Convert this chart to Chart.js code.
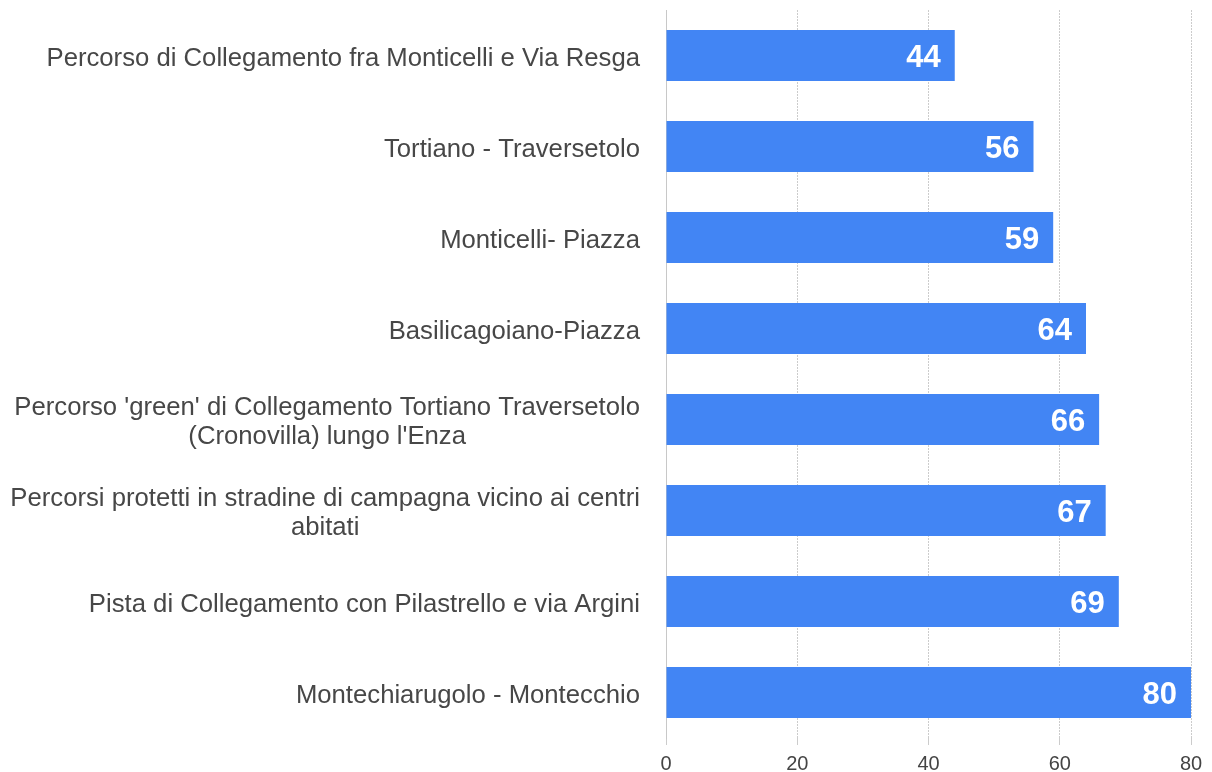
<!DOCTYPE html>
<html>
<head>
<meta charset="utf-8">
<script src="https://cdn.jsdelivr.net/npm/chart.js@4.4.1/dist/chart.umd.min.js"></script>
<style>
  html, body { margin: 0; padding: 0; background: #ffffff; }
  #wrap { width: 1212px; height: 772px; position: relative; }
</style>
</head>
<body>
<div id="wrap"><canvas id="c" width="1212" height="772"></canvas></div>
<script>
const categories = [
  ["Percorso di Collegamento fra Monticelli e Via Resga"],
  ["Tortiano - Traversetolo"],
  ["Monticelli- Piazza"],
  ["Basilicagoiano-Piazza"],
  ["Percorso 'green' di Collegamento Tortiano Traversetolo", "(Cronovilla) lungo l'Enza"],
  ["Percorsi protetti in stradine di campagna vicino ai centri", "abitati"],
  ["Pista di Collegamento con Pilastrello e via Argini"],
  ["Montechiarugolo - Montecchio"]
];
const values = [44, 56, 59, 64, 66, 67, 69, 80];
const xTicks = [0, 20, 40, 60, 80];

const FONT = "'Liberation Sans', Arial, sans-serif";

const valueLabels = {
  id: 'valueLabels',
  afterDatasetsDraw(chart) {
    const ctx = chart.ctx;
    const meta = chart.getDatasetMeta(0);
    ctx.save();
    ctx.font = "bold 31px " + FONT;
    ctx.fillStyle = '#ffffff';
    ctx.textAlign = 'right';
    ctx.textBaseline = 'middle';
    meta.data.forEach((bar, i) => {
      ctx.fillText(String(values[i]), bar.x - 14, bar.y + 3);
    });
    ctx.restore();
  }
};

const categoryLabels = {
  id: 'categoryLabels',
  afterDraw(chart) {
    const ctx = chart.ctx;
    const yScale = chart.scales.y;
    const rightX = yScale.right - 26;
    const lineH = 29;
    ctx.save();
    ctx.font = "25.7px " + FONT;
    ctx.fillStyle = '#474747';
    ctx.textBaseline = 'middle';
    categories.forEach((lines, i) => {
      const cy = yScale.getPixelForValue(i);
      const widths = lines.map(l => ctx.measureText(l).width);
      const w = Math.max(...widths);
      const center = rightX - w / 2;
      const startY = cy - (lines.length - 1) * lineH / 2;
      ctx.textAlign = 'center';
      lines.forEach((l, k) => {
        ctx.fillText(l, center, startY + k * lineH + 3);
      });
    });
    ctx.restore();
  }
};

new Chart(document.getElementById('c'), {
  type: 'bar',
  data: {
    labels: categories.map(l => l.join(' ')),
    datasets: [{
      data: values,
      backgroundColor: '#4285F4',
      borderWidth: 0,
      barPercentage: 0.56,
      categoryPercentage: 1.0
    }]
  },
  options: {
    indexAxis: 'y',
    responsive: false,
    animation: false,
    devicePixelRatio: 1,
    layout: { padding: { top: 10, right: 21, bottom: 0, left: 0 } },
    plugins: {
      legend: { display: false },
      tooltip: { enabled: false }
    },
    scales: {
      x: {
        position: 'bottom',
        min: 0,
        max: 80,
        afterBuildTicks(scale) {
          scale.ticks = xTicks.map(v => ({ value: v }));
        },
        afterFit(scale) { scale.height = 34; },
        ticks: {
          font: { family: FONT, size: 20 },
          color: '#444444',
          padding: 7
        },
        grid: {
          color: '#cccccc',
          lineWidth: 1,
          tickLength: 7,
          tickColor: '#cccccc',
          drawTicks: true
        },
        border: { display: false, dash: [2, 1] }
      },
      y: {
        ticks: { display: false },
        grid: { display: false, drawTicks: false },
        border: { display: true, color: '#c8c8c8', width: 1 },
        afterFit(scale) { scale.width = 666; }
      }
    }
  },
  plugins: [valueLabels, categoryLabels]
});
</script>
</body>
</html>
